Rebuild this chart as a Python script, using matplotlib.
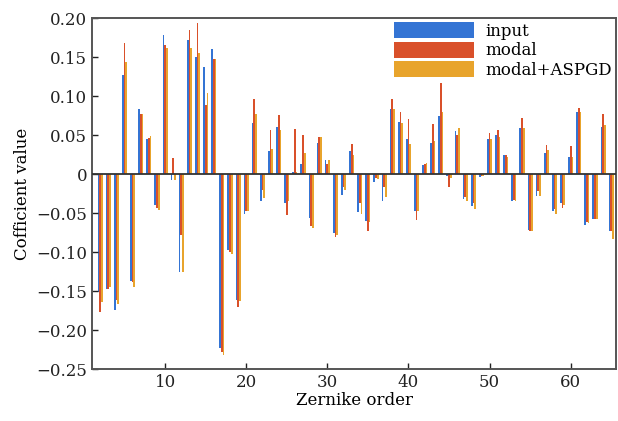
import numpy as np
import matplotlib
matplotlib.use("Agg")
import matplotlib.pyplot as plt
from matplotlib.ticker import FuncFormatter

# Zernike orders 2..65
orders = list(range(2, 66))

# input coefficients
inp = [-0.151, -0.147, -0.174, 0.127, -0.137, 0.083, 0.0445, -0.040,
       0.178, -0.007, -0.125, 0.172, 0.150, 0.137, 0.160, -0.223,
       -0.097, -0.161, -0.051, 0.065, -0.035, 0.030, 0.060, -0.037,
       0.003, 0.013, -0.056, 0.040, 0.0175, -0.076, -0.0265, 0.029,
       -0.049, -0.060, -0.010, -0.034, 0.083, 0.067, 0.045, -0.048,
       0.011, 0.040, 0.075, -0.003, 0.0555, -0.032, -0.0415, -0.004,
       0.045, 0.0495, 0.025, -0.034, 0.059, -0.0715, -0.0285, 0.027,
       -0.048, -0.037, 0.0225, 0.080, -0.065, -0.0575, 0.060, -0.0725]

# modal reconstruction
modal = [-0.1765, -0.147, -0.161, 0.168, -0.139, 0.077, 0.046, -0.043,
         0.165, 0.020, -0.078, 0.185, 0.194, 0.089, 0.148, -0.228,
         -0.100, -0.170, -0.047, 0.0966, -0.020, 0.057, 0.076, -0.052,
         0.058, 0.050, -0.067, 0.047, 0.013, -0.081, -0.016, 0.039,
         -0.037, -0.073, -0.005, -0.016, 0.096, 0.0795, 0.0705, -0.0585,
         0.013, 0.064, 0.117, -0.017, 0.050, -0.029, -0.037, -0.002,
         0.0525, 0.057, 0.024, -0.033, 0.072, -0.073, -0.022, 0.0375,
         -0.045, -0.0435, 0.036, 0.0845, -0.061, -0.0575, 0.077, -0.073]

# modal + ASPGD
aspgd = [-0.164, -0.145, -0.166, 0.144, -0.1445, 0.077, 0.049, -0.046,
         0.162, -0.007, -0.125, 0.162, 0.155, 0.104, 0.148, -0.232,
         -0.1026, -0.163, -0.048, 0.077, -0.031, 0.032, 0.056, -0.035,
         0.003, 0.027, -0.069, 0.048, 0.018, -0.078, -0.021, 0.025,
         -0.051, -0.062, -0.006, -0.030, 0.083, 0.065, 0.0385, -0.048,
         0.014, 0.043, 0.0795, -0.005, 0.059, -0.034, -0.045, -0.002,
         0.045, 0.047, 0.0225, -0.035, 0.059, -0.0735, -0.0285, 0.031,
         -0.051, -0.040, 0.0225, 0.0795, -0.063, -0.057, 0.063, -0.083]

labels = ["input", "modal", "modal+ASPGD"]
colors = ["#3474d4", "#d9502a", "#e8a42c"]

plt.rcParams['font.family'] = ['DejaVu Serif']

fig = plt.figure(figsize=(6.18, 4.21), dpi=100)
ax = fig.add_axes([0.149, 0.1235, 0.848, 0.8335])

x = np.array(orders)
w = 0.21
ax.bar(x - w, inp, width=w, color=colors[0], label=labels[0])
ax.bar(x, modal, width=w, color=colors[1], label=labels[1])
ax.bar(x + w, aspgd, width=w, color=colors[2], label=labels[2])
ax.axhline(0, color="#333333", lw=1.3, zorder=3)

ax.set_xlim(1, 65.6)
ax.set_ylim(-0.25, 0.2)
ax.set_xticks([10, 20, 30, 40, 50, 60])
ax.set_yticks(np.arange(-0.25, 0.2001, 0.05))

def fmt(v, pos):  # 0 -> "0", others two decimals, real minus
  if abs(v) < 1e-9:
    return "0"
  return ("%.2f" % v).replace("-", "\u2212")

ax.yaxis.set_major_formatter(FuncFormatter(fmt))
ax.tick_params(direction="in", length=4, width=1, labelsize=12, colors="#222222")
for s in ax.spines.values():
  s.set_color("#555555")
  s.set_linewidth(1.4)

ax.set_xlabel("Zernike order", fontsize=12, labelpad=1)
ax.set_ylabel("Cofficient value", fontsize=12, labelpad=4)

ax.legend(loc="upper right", frameon=False, fontsize=12, handlelength=4.8,
          handleheight=1.1, labelspacing=0.1, handletextpad=0.7,
          borderaxespad=0.15, borderpad=0.1)

fig.savefig("out.png", dpi=100)
